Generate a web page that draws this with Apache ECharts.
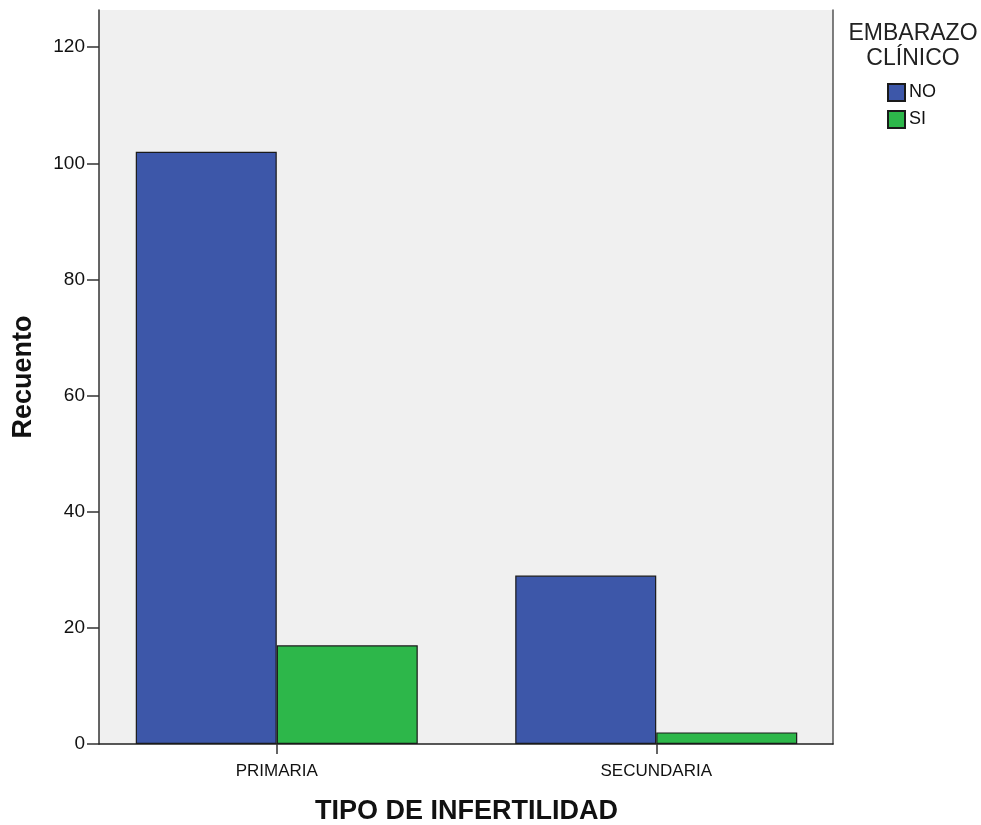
<!DOCTYPE html>
<html><head><meta charset="utf-8">
<script src="https://cdn.jsdelivr.net/npm/echarts@6/dist/echarts.min.js"></script>
<style>html,body{margin:0;padding:0;background:#fff}#c{width:981px;height:825px}</style>
</head><body><div id="c"></div>
<script>
const categories = ['PRIMARIA', 'SECUNDARIA'];
const seriesNames = ['NO', 'SI'];
const valuesNO = [102, 29];
const valuesSI = [17, 2];
const yTicks = [0, 20, 40, 60, 80, 100, 120];
const legendTitle = 'EMBARAZO\nCLÍNICO';
const xTitle = 'TIPO DE INFERTILIDAD';
const yTitle = 'Recuento';

const FONT = '"Liberation Sans", Arial, sans-serif';
const YMAX = 126.4;
const chart = echarts.init(document.getElementById('c'));
chart.setOption({
  animation: false,
  grid: [
    {left: 99, right: 148, top: 10, bottom: 81, show: true, backgroundColor: '#f0f0f0', borderWidth: 0, containLabel: false, outerBoundsMode: 'none'},
    {left: 87, width: 759, top: 10, bottom: 81, containLabel: false, outerBoundsMode: 'none'}
  ],
  xAxis: [
    {gridIndex: 0, type: 'value', min: 0, max: 1, axisLine: {show: true, onZero: false, lineStyle: {color: '#222', width: 1.5}}, axisTick: {show: false}, axisLabel: {show: false}, splitLine: {show: false}},
    {gridIndex: 1, type: 'category', data: categories, axisLine: {show: false},
     axisTick: {show: true, alignWithLabel: true, length: 10, lineStyle: {color: '#333', width: 1.5}},
     axisLabel: {color: '#111', fontSize: 17, fontFamily: FONT, margin: 19},
     name: xTitle, nameLocation: 'middle', nameGap: 54,
     nameTextStyle: {fontSize: 27, fontWeight: 'bold', color: '#111', fontFamily: FONT}}
  ],
  yAxis: [
    {gridIndex: 0, type: 'value', min: 0, max: YMAX,
     axisLine: {show: true, onZero: false, lineStyle: {color: '#333', width: 1.5}},
     axisTick: {show: true, length: 12, customValues: yTicks, lineStyle: {color: '#333', width: 1.5}},
     axisLabel: {color: '#111', fontSize: 19, fontFamily: FONT, margin: 14, customValues: yTicks},
     splitLine: {show: false},
     name: yTitle, nameLocation: 'middle', nameGap: 62,
     nameTextStyle: {fontSize: 27, fontWeight: 'bold', color: '#111', fontFamily: FONT}},
    {gridIndex: 0, type: 'value', min: 0, max: YMAX, position: 'right', axisLine: {show: true, onZero: false, lineStyle: {color: '#555', width: 1.5}}, axisTick: {show: false}, axisLabel: {show: false}, splitLine: {show: false}},
    {gridIndex: 1, type: 'value', min: 0, max: YMAX, show: false}
  ],
  legend: {
    orient: 'vertical', left: 887, top: 83, padding: 0, itemWidth: 17, itemHeight: 17, itemGap: 8,
    icon: 'rect', data: seriesNames,
    textStyle: {fontSize: 18, color: '#111', fontFamily: FONT, padding: [2, 0, 0, -1]}
  },
  graphic: [
    {type: 'text', left: 848, top: 21, style: {text: legendTitle, font: '23px ' + FONT, fill: '#222', textAlign: 'center', width: 130, lineHeight: 25, align: 'center'}}
  ],
  series: [
    {name: seriesNames[0], type: 'bar', xAxisIndex: 1, yAxisIndex: 2, data: valuesNO, barWidth: 141, barGap: '0%',
     itemStyle: {color: '#3d57a9', borderColor: '#1a1a1a', borderWidth: 1.2}},
    {name: seriesNames[1], type: 'bar', xAxisIndex: 1, yAxisIndex: 2, data: valuesSI, barWidth: 141, barGap: '0%',
     itemStyle: {color: '#2db74a', borderColor: '#1a1a1a', borderWidth: 1.2}}
  ]
});
</script></body></html>
